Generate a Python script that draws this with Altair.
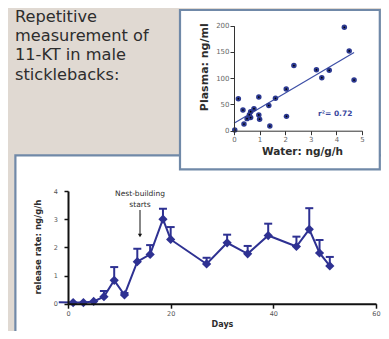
import altair as alt
import pandas as pd

# ---------------- data ----------------
title_lines = ["Repetitive", "measurement of", "11-KT in male", "sticklebacks:"]

# inset scatter: water release rate vs plasma level
water = [4.31, 4.50, 2.34, 3.22, 3.72, 3.43, 4.69, 2.04, 1.62, 0.97, 0.17, 1.36,
         0.35, 0.78, 0.65, 0.60, 0.97, 1.00, 0.51, 0.65, 0.39, 2.05, 1.40, 0.03]
plasma = [197, 152, 124, 116, 115, 101, 96.5, 79.4, 61.6, 64, 61, 48,
          39.4, 41.9, 36.2, 30.5, 30, 22, 23, 25, 12.7, 27.3, 8.9, 1.3]
fit_water = [0.0, 4.69]
fit_plasma = [14, 149]
r2_label = "r²= 0.72"

# main panel: release rate over days
days = [1, 3, 5, 7, 9, 11, 13.5, 16, 18.5, 20, 27, 31, 35, 39, 44.5, 47, 49, 51]
rate = [0.04, 0.04, 0.08, 0.25, 0.83, 0.31, 1.49, 1.75, 3.0, 2.28,
        1.41, 2.16, 1.77, 2.42, 2.03, 2.64, 1.80, 1.34]
rate_upper = [None, None, None, 0.45, 1.30, 0.38, 1.95, 2.08, 3.37, 2.72,
              1.63, 2.45, 2.05, 2.84, 2.38, 3.39, 2.26, 1.66]
lead_day = [-1.8]
lead_rate = [0.05]
annotation_lines = ["Nest-building", "starts"]

# ---------------- setup ----------------
W, H = 373, 323
FONT = "DejaVu Sans"
NAVY = "#2e3192"
TXT = "#2d2d2d"
BORDER = "#7089a8"

df_s = pd.DataFrame({"water": water, "plasma": plasma})
df_fit = pd.DataFrame({"water": fit_water, "plasma": fit_plasma})
df_b = pd.DataFrame({"day": days, "rate": rate, "upper": rate_upper})
df_line = pd.DataFrame({"day": lead_day + days, "rate": lead_rate + rate})
one = alt.Data(values=[{}])


def sx():
    return alt.Scale(domain=[0, 5], range=[226, 354], nice=False, zero=False)


def sy():
    return alt.Scale(domain=[0, 200], range=[122.7, 17.7], nice=False, zero=False)


def bx():
    return alt.Scale(domain=[0, 60], range=[60, 368], nice=False, zero=False)


def by():
    return alt.Scale(domain=[0, 4], range=[295.7, 183], nice=False, zero=False)


ax_sx = alt.Axis(orient="bottom", offset=122.7 - H, values=[0, 1, 2, 3, 4, 5], grid=False,
                 zindex=1,
                 domainColor="#333", domainWidth=1, tickColor="#333", tickSize=4,
                 labelFont=FONT, labelFontSize=7, labelColor="#666", labelPadding=1,
                 labelFlush=False, labelOverlap=False,
                 title="Water: ng/g/h", titleFont=FONT, titleFontSize=10.5, titleFontWeight="bold",
                 titleColor=TXT, titleX=294, titleY=23.3, titleBaseline="alphabetic",
                 titleAlign="center")
ax_sy = alt.Axis(orient="left", offset=-226, values=[0, 50, 100, 150, 200], grid=False,
                 zindex=1,
                 domainColor="#333", domainWidth=1, tickColor="#333", tickSize=4,
                 labelFont=FONT, labelFontSize=7, labelColor="#666", labelPadding=1,
                 labelFlush=False, labelOverlap=False,
                 title="Plasma: ng/ml", titleFont=FONT, titleFontSize=11, titleFontWeight="bold",
                 titleColor=TXT, titleX=-25, titleY=58.7, titleAngle=270,
                 titleBaseline="bottom", titleAlign="center")
ax_bx = alt.Axis(orient="bottom", offset=295.7 - H, values=[0, 20, 40, 60], grid=False,
                 zindex=1,
                 domainColor="#111", domainWidth=2, tickColor="#111", tickWidth=1.5, tickSize=4.5,
                 labelFont=FONT, labelFontSize=6.5, labelColor="#555", labelPadding=2.5,
                 labelFlush=False, labelOverlap=False,
                 title="Days", titleFont=FONT, titleFontSize=8, titleFontWeight="bold",
                 titleColor=TXT, titleX=214, titleY=23, titleBaseline="alphabetic",
                 titleAlign="center")
ax_by = alt.Axis(orient="left", offset=-60, values=[0, 1, 2, 3, 4], grid=False,
                 zindex=1,
                 domainColor="#111", domainWidth=2, tickColor="#111", tickWidth=1.5, tickSize=4,
                 labelFont=FONT, labelFontSize=6.5, labelColor="#555", labelPadding=6.5,
                 labelFlush=False, labelOverlap=False,
                 title="release rate: ng/g/h", titleFont=FONT, titleFontSize=8.5,
                 titleFontWeight="bold", titleColor=TXT, titleX=-25.3, titleY=238.5,
                 titleAngle=270, titleBaseline="bottom", titleAlign="center")

# ---------------- decorations ----------------
heading = alt.Chart(one).mark_text(
    text=title_lines, font=FONT, fontSize=16.2, color=TXT, lineHeight=19.2,
    align="left", baseline="alphabetic"
).encode(x=alt.value(7), y=alt.value(14))

bottom_box = alt.Chart(one).mark_rect(fill="white", stroke=BORDER, strokeWidth=2.2).encode(
    x=alt.value(7.4), x2=alt.value(420), y=alt.value(147.4), y2=alt.value(420))

scatter_box = alt.Chart(one).mark_rect(fill="white", stroke=BORDER, strokeWidth=2.2).encode(
    x=alt.value(172), x2=alt.value(371.8), y=alt.value(2), y2=alt.value(161.3))

# ---------------- main panel ----------------
b_line = alt.Chart(df_line).mark_line(color=NAVY, strokeWidth=2).encode(
    x=alt.X("day:Q", scale=bx(), axis=None), y=alt.Y("rate:Q", scale=by(), axis=None))
b_err = alt.Chart(df_b).transform_filter("isValid(datum.upper)").mark_rule(
    color=NAVY, strokeWidth=2).encode(
    x=alt.X("day:Q", scale=bx(), axis=None), y=alt.Y("rate:Q", scale=by(), axis=None),
    y2="upper:Q")
b_cap = alt.Chart(df_b).transform_filter("isValid(datum.upper)").mark_tick(
    color=NAVY, orient="horizontal", size=8, thickness=2, opacity=1).encode(
    x=alt.X("day:Q", scale=bx(), axis=None), y=alt.Y("upper:Q", scale=by(), axis=None))
b_pts = alt.Chart(df_b).mark_point(shape="diamond", filled=True, size=85, color=NAVY,
                                    opacity=1).encode(
    x=alt.X("day:Q", scale=bx(), axis=ax_bx), y=alt.Y("rate:Q", scale=by(), axis=ax_by))

note = alt.Chart(one).mark_text(
    text=annotation_lines, font=FONT, fontSize=7.5, color=TXT, lineHeight=10.5,
    align="center", baseline="alphabetic"
).encode(x=alt.value(132), y=alt.value(188))
arrow = alt.Chart(one).mark_rule(color="#111", strokeWidth=1).encode(
    x=alt.value(132), y=alt.value(202), y2=alt.value(226))
arrow_head = alt.Chart(one).mark_point(shape="triangle-down", filled=True, size=18,
                                       color="#111", opacity=1).encode(
    x=alt.value(132), y=alt.value(227.5))

# ---------------- inset scatter ----------------
s_fit = alt.Chart(df_fit).mark_line(color="#3d4fa6", strokeWidth=1.2).encode(
    x=alt.X("water:Q", scale=sx(), axis=None), y=alt.Y("plasma:Q", scale=sy(), axis=None))
s_pts = alt.Chart(df_s).mark_circle(size=30, color="#2c3990", opacity=1).encode(
    x=alt.X("water:Q", scale=sx(), axis=ax_sx), y=alt.Y("plasma:Q", scale=sy(), axis=ax_sy))
s_dot = alt.Chart(df_s).mark_circle(size=3, color="#000", opacity=1).encode(
    x=alt.X("water:Q", scale=sx(), axis=None), y=alt.Y("plasma:Q", scale=sy(), axis=None))

r2 = alt.Chart(one).mark_text(
    text=r2_label, font=FONT, fontSize=7.5, fontWeight="bold", color="#3b4aa0",
    align="left", baseline="alphabetic"
).encode(x=alt.value(310), y=alt.value(108))

chart = alt.layer(
    heading, bottom_box, b_line, b_err, b_cap, b_pts, note, arrow, arrow_head,
    scatter_box, s_fit, s_pts, s_dot, r2
).resolve_scale(x="independent", y="independent").resolve_axis(
    x="independent", y="independent"
).properties(
    width=W, height=H, padding=0, background="#e0d9d2",
    autosize=alt.AutoSizeParams(type="none")
).configure_view(strokeWidth=0)

chart.save("out.html", embed_options={"renderer": "svg", "actions": False})
